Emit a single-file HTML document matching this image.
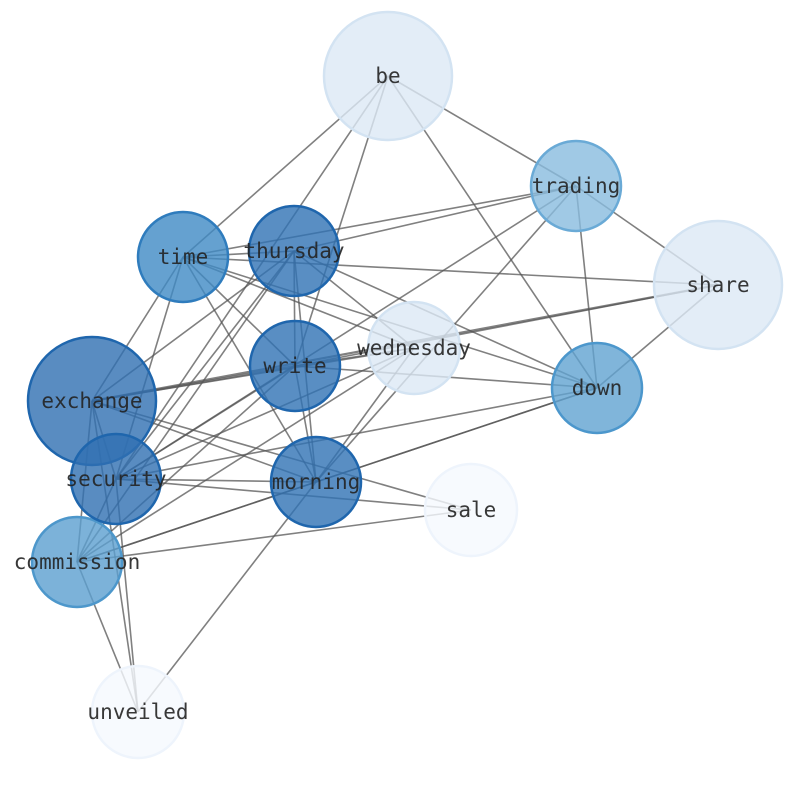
<!DOCTYPE html>
<html><head><meta charset="utf-8"><style>html,body{margin:0;padding:0;background:#fff}svg{display:block}</style></head>
<body>
<svg width="794" height="790" viewBox="0 0 794 790" xmlns="http://www.w3.org/2000/svg">
<g stroke="#555" stroke-opacity="0.75" stroke-width="1.6" fill="none">
<!-- be -->
<line x1="388" y1="76" x2="183" y2="257"/>
<line x1="388" y1="76" x2="295" y2="366"/>
<line x1="388" y1="76" x2="576" y2="186"/>
<line x1="388" y1="76" x2="597" y2="388"/>
<line x1="388" y1="76" x2="116" y2="479"/>
<!-- trading -->
<line x1="576" y1="186" x2="183" y2="257"/>
<line x1="576" y1="186" x2="294" y2="251"/>
<line x1="576" y1="186" x2="116" y2="479"/>
<line x1="576" y1="186" x2="316" y2="482"/>
<line x1="576" y1="186" x2="597" y2="388"/>
<line x1="576" y1="186" x2="718" y2="285"/>
<!-- share -->
<line x1="718" y1="285" x2="183" y2="257"/>
<line x1="718" y1="285" x2="92" y2="401" stroke-width="2.2"/>
<line x1="718" y1="285" x2="295" y2="366"/>
<line x1="718" y1="285" x2="597" y2="388"/>
<!-- wednesday -->
<line x1="414" y1="348" x2="294" y2="251"/>
<line x1="414" y1="348" x2="183" y2="257"/>
<line x1="414" y1="348" x2="92" y2="401"/>
<line x1="414" y1="348" x2="116" y2="479"/>
<line x1="414" y1="348" x2="77" y2="562"/>
<line x1="414" y1="348" x2="316" y2="482"/>
<line x1="414" y1="348" x2="295" y2="366"/>
<!-- down -->
<line x1="597" y1="388" x2="294" y2="251"/>
<line x1="597" y1="388" x2="183" y2="257"/>
<line x1="597" y1="388" x2="295" y2="366"/>
<line x1="597" y1="388" x2="116" y2="479"/>
<line x1="597" y1="388" x2="77" y2="562"/>
<line x1="597" y1="388" x2="316" y2="482"/>
<!-- thursday -->
<line x1="294" y1="251" x2="183" y2="257"/>
<line x1="294" y1="251" x2="116" y2="479"/>
<line x1="294" y1="251" x2="92" y2="401"/>
<line x1="294" y1="251" x2="77" y2="562"/>
<line x1="294" y1="251" x2="295" y2="366"/>
<line x1="294" y1="251" x2="316" y2="482"/>
<!-- time -->
<line x1="183" y1="257" x2="92" y2="401"/>
<line x1="183" y1="257" x2="116" y2="479"/>
<line x1="183" y1="257" x2="316" y2="482"/>
<line x1="183" y1="257" x2="295" y2="366"/>
<!-- exchange -->
<line x1="92" y1="401" x2="295" y2="366" stroke-width="2.2"/>
<line x1="92" y1="401" x2="116" y2="479"/>
<line x1="92" y1="401" x2="77" y2="562"/>
<line x1="92" y1="401" x2="138" y2="712"/>
<line x1="92" y1="401" x2="316" y2="482"/>
<line x1="92" y1="401" x2="471" y2="510"/>
<!-- security -->
<line x1="116" y1="479" x2="316" y2="482"/>
<line x1="116" y1="479" x2="471" y2="510"/>
<line x1="116" y1="479" x2="295" y2="366"/>
<line x1="116" y1="479" x2="138" y2="712"/>
<line x1="116" y1="479" x2="77" y2="562"/>
<!-- commission -->
<line x1="77" y1="562" x2="471" y2="510"/>
<line x1="77" y1="562" x2="316" y2="482"/>
<line x1="77" y1="562" x2="295" y2="366"/>
<line x1="77" y1="562" x2="138" y2="712"/>
<!-- morning -->
<line x1="316" y1="482" x2="138" y2="712"/>
<line x1="316" y1="482" x2="295" y2="366"/>
</g>
<g stroke-width="2.5">
<circle cx="388" cy="76" r="64" fill="#dce9f5" fill-opacity="0.8" stroke="#d3e3f2"/>
<circle cx="718" cy="285" r="64" fill="#dce9f5" fill-opacity="0.8" stroke="#d3e3f2"/>
<circle cx="471" cy="510" r="46" fill="#f5f9fe" fill-opacity="0.8" stroke="#eef4fc"/>
<circle cx="138" cy="712" r="46" fill="#f5f9fe" fill-opacity="0.8" stroke="#eef4fc"/>
<circle cx="414" cy="348" r="46" fill="#dce9f5" fill-opacity="0.8" stroke="#d3e3f2"/>
<circle cx="576" cy="186" r="45" fill="#88bcde" fill-opacity="0.8" stroke="#6aaad6"/>
<circle cx="597" cy="388" r="45" fill="#60a2d1" fill-opacity="0.8" stroke="#4c97cc"/>
<circle cx="77" cy="562" r="45" fill="#5b9fd0" fill-opacity="0.8" stroke="#4d97cb"/>
<circle cx="183" cy="257" r="45" fill="#3f8ac4" fill-opacity="0.8" stroke="#2f7cbd"/>
<circle cx="294" cy="251" r="45" fill="#2f72b4" fill-opacity="0.8" stroke="#1f66ad"/>
<circle cx="295" cy="366" r="45" fill="#2f72b4" fill-opacity="0.8" stroke="#1f66ad"/>
<circle cx="316" cy="482" r="45" fill="#2f72b4" fill-opacity="0.8" stroke="#1f66ad"/>
<circle cx="92" cy="401" r="64" fill="#2f6fb2" fill-opacity="0.8" stroke="#1f66ad"/>
<circle cx="116" cy="479" r="45" fill="#2f6fb2" fill-opacity="0.8" stroke="#1f66ad"/>
</g>
<g font-family="'DejaVu Sans Mono','Liberation Mono',monospace" font-size="21" fill="#222" fill-opacity="0.9" text-anchor="middle" dominant-baseline="central">
<text x="388" y="76">be</text>
<text x="576" y="186">trading</text>
<text x="718" y="285">share</text>
<text x="183" y="257">time</text>
<text x="294" y="251">thursday</text>
<text x="414" y="348">wednesday</text>
<text x="295" y="366">write</text>
<text x="597" y="388">down</text>
<text x="92" y="401">exchange</text>
<text x="116" y="479">security</text>
<text x="316" y="482">morning</text>
<text x="471" y="510">sale</text>
<text x="77" y="562">commission</text>
<text x="138" y="712">unveiled</text>
</g>
</svg>
</body></html>
